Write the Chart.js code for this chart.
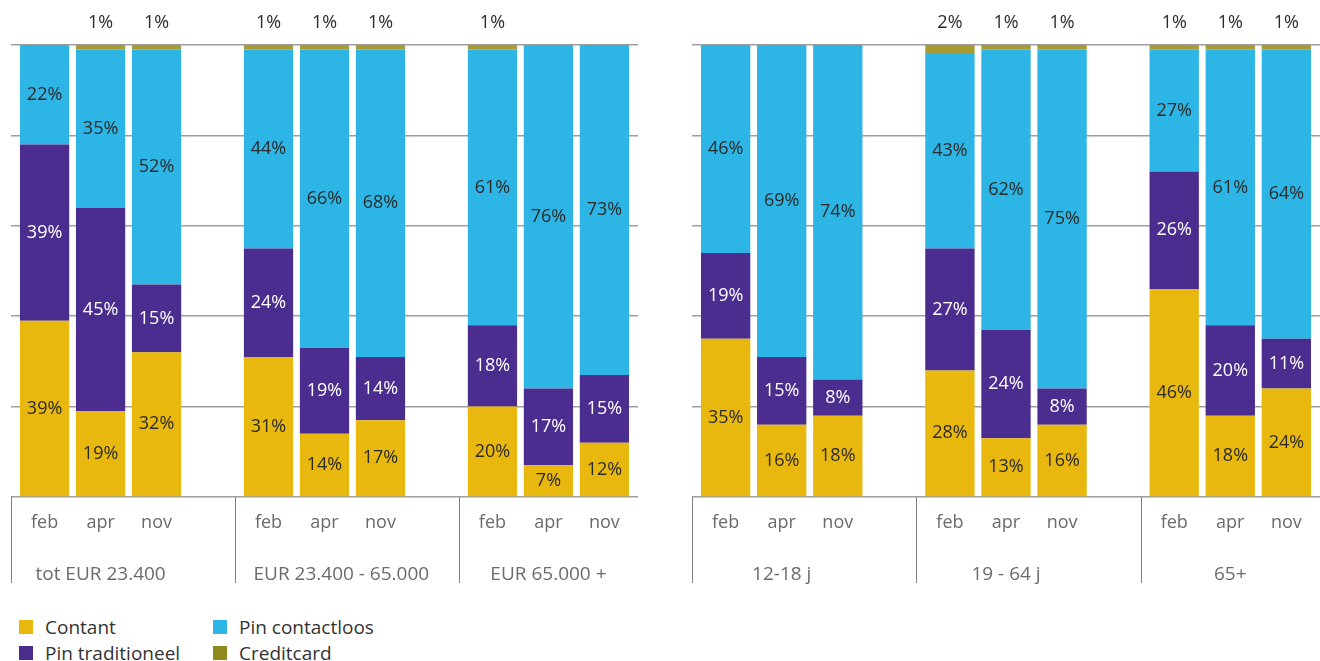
<!DOCTYPE html>
<html>
<head>
<meta charset="utf-8">
<script src="https://cdn.jsdelivr.net/npm/chart.js@4/dist/chart.umd.min.js"></script>
<style>
  html, body { margin: 0; padding: 0; background: #fff; }
  body { width: 1320px; height: 661px; position: relative; overflow: hidden; font-family: 'Open Sans', sans-serif; }
  .panel { position: absolute; top: 0; width: 660px; height: 600px; }
  #legend { position: absolute; left: 19px; top: 614px; display: grid; grid-auto-flow: column;
            grid-template-rows: 26px 26px; grid-template-columns: 194px auto; }
  .item { display: flex; align-items: center; font-size: 19px; color: #333; }
  .sw { width: 14px; height: 14px; margin-right: 12px; flex: none; }
</style>
</head>
<body>
<div class="panel" style="left:0"><canvas id="c1"></canvas></div>
<div class="panel" style="left:660px"><canvas id="c2"></canvas></div>
<div id="legend"></div>
<script>
// ---- data ----
const months = ['feb', 'apr', 'nov'];
const groupsIncome = ['tot EUR 23.400', 'EUR 23.400 - 65.000', 'EUR 65.000 +'];
const groupsAge = ['12-18 j', '19 - 64 j', '65+'];
const seriesNames = ['Contant', 'Pin traditioneel', 'Pin contactloos', 'Creditcard'];

// income panel (feb, apr, nov per group)
const incomeContant        = [39, 19, 32,  31, 14, 17,  20,  7, 12];
const incomePinTraditioneel = [39, 45, 15,  24, 19, 14,  18, 17, 15];
const incomePinContactloos  = [22, 35, 52,  44, 66, 68,  61, 76, 73];
const incomeCreditcard      = [ 0,  1,  1,   1,  1,  1,   1,  0,  0];

// age panel
const ageContant        = [35, 16, 18,  28, 13, 16,  46, 18, 24];
const agePinTraditioneel = [19, 15,  8,  27, 24,  8,  26, 20, 11];
const agePinContactloos  = [46, 69, 74,  43, 62, 75,  27, 61, 64];
const ageCreditcard      = [ 0,  0,  0,   2,  1,  1,   1,  1,  1];

const yTicks = [0, 20, 40, 60, 80, 100];

// ---- styles ----
const colors = ['#E8B80E', '#4B2D8F', '#2DB5E5', '#A89B35'];
const legendColors = ['#E8B80E', '#4B2D8F', '#2DB5E5', '#8E8A1C'];
const labelColors = ['#2b2b2b', '#ffffff', '#2b2b2b', '#2b2b2b'];
const FONT = "'Open Sans', sans-serif";
Chart.defaults.font.family = FONT;

// slot positions: each group = 3 months + 1 empty slot
const slots = [];
groupsIncome.forEach((g, gi) => months.forEach((m, mi) => slots.push(gi * 4 + mi)));

function makeDatasets(arrs) {
  return arrs.map((arr, i) => ({
    label: seriesNames[i],
    data: arr.map((v, j) => ({ x: slots[j], y: v })),
    backgroundColor: colors[i],
    borderWidth: 0,
    categoryPercentage: 1,
    barPercentage: 0.88,
    stack: 's'
  }));
}

const labelsPlugin = {
  id: 'valueLabels',
  afterDatasetsDraw(chart) {
    const ctx = chart.ctx;
    ctx.save();
    ctx.font = '18px ' + FONT;
    ctx.textAlign = 'center';
    ctx.textBaseline = 'middle';
    chart.data.datasets.forEach((ds, i) => {
      const meta = chart.getDatasetMeta(i);
      meta.data.forEach((bar, j) => {
        const v = ds.data[j].y;
        if (!v) return;
        if (i === 3) {
          ctx.fillStyle = '#2b2b2b';
          ctx.fillText(v + '%', bar.x, chart.chartArea.top - 22);
        } else {
          ctx.fillStyle = labelColors[i];
          ctx.fillText(v + '%', bar.x, (bar.y + bar.base) / 2);
        }
      });
    });
    ctx.restore();
  }
};

const groupPlugin = {
  id: 'groups',
  afterDraw(chart) {
    const ctx = chart.ctx;
    const xs = chart.scales.x;
    const groups = chart.options.plugins.groups.names;
    const bottom = chart.chartArea.bottom;
    ctx.save();
    ctx.strokeStyle = '#808080';
    ctx.lineWidth = 1;
    ctx.fillStyle = '#6b6b6b';
    ctx.font = '19px ' + FONT;
    ctx.textAlign = 'center';
    ctx.textBaseline = 'middle';
    groups.forEach((g, gi) => {
      const sx = Math.round(xs.getPixelForValue(gi * 4 - 0.6)) + 0.5;
      ctx.beginPath();
      ctx.moveTo(sx, bottom);
      ctx.lineTo(sx, 583);
      ctx.stroke();
      const w = ctx.measureText(g).width;
      const cx = Math.max(xs.getPixelForValue(gi * 4 + 1), sx + 18 + w / 2);
      ctx.fillText(g, cx, 575);
    });
    ctx.restore();
  }
};

function makeChart(id, arrs, groups, padLeft, padRight) {
  return new Chart(document.getElementById(id), {
    type: 'bar',
    data: { datasets: makeDatasets(arrs) },
    options: {
      responsive: true,
      maintainAspectRatio: false,
      animation: false,
      layout: { padding: { left: padLeft, right: padRight, top: 45, bottom: 0 } },
      plugins: {
        legend: { display: false },
        tooltip: { enabled: false },
        groups: { names: groups }
      },
      scales: {
        x: {
          type: 'linear',
          min: -0.6,
          max: 10.6,
          stacked: true,
          offset: false,
          grid: { display: false },
          border: { display: false },
          afterBuildTicks: s => { s.ticks = slots.map(v => ({ value: v })); },
          afterFit: s => { s.height = 103; },
          ticks: {
            autoSkip: false,
            maxRotation: 0,
            padding: 7,
            color: '#6b6b6b',
            font: { size: 18, family: FONT },
            callback: v => months[Math.round(v) % 4] || ''
          }
        },
        y: {
          min: 0,
          max: 100,
          stacked: true,
          afterBuildTicks: s => { s.ticks = yTicks.map(v => ({ value: v })); },
          afterFit: s => { s.width = 0; },
          ticks: { display: false },
          border: { display: false },
          grid: { color: '#9e9e9e', lineWidth: 1.5, drawTicks: false }
        }
      }
    },
    plugins: [labelsPlugin, groupPlugin]
  });
}

makeChart('c1', [incomeContant, incomePinTraditioneel, incomePinContactloos, incomeCreditcard], groupsIncome, 11, 22);
makeChart('c2', [ageContant, agePinTraditioneel, agePinContactloos, ageCreditcard], groupsAge, 32, 0);

// legend (built from series names / colours)
const legend = document.getElementById('legend');
seriesNames.forEach((name, i) => {
  const it = document.createElement('div');
  it.className = 'item';
  it.innerHTML = '<span class="sw" style="background:' + legendColors[i] + '"></span><span></span>';
  it.lastChild.textContent = name;
  legend.appendChild(it);
});
</script>
</body>
</html>
